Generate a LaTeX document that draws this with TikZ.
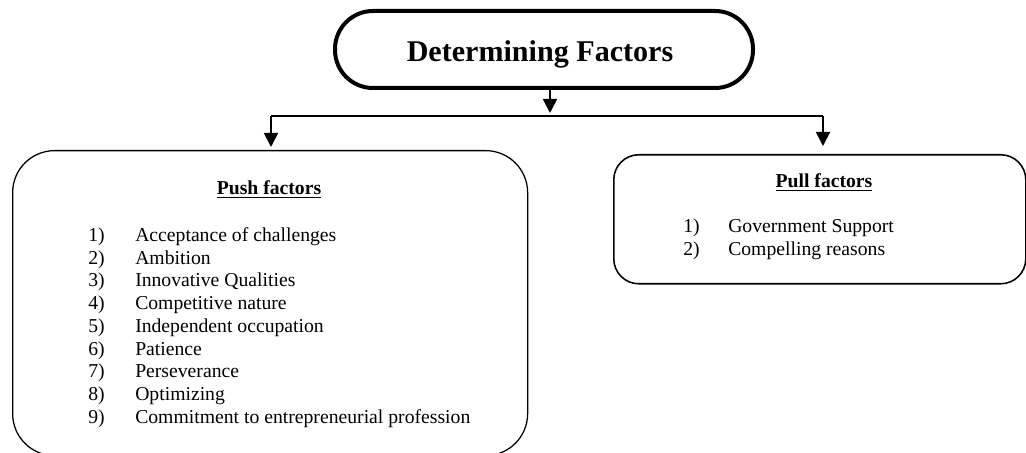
\documentclass[tikz,border=0pt]{standalone}
\usepackage{fontspec}
\setmainfont{Liberation Serif}
\usetikzlibrary{positioning,arrows.meta}

\begin{document}
\begin{tikzpicture}[
    box/.style={draw, rounded corners=#1, line width=0.9pt, inner sep=0pt, anchor=north west},
    head/.style={anchor=base, inner sep=0pt, font=\fontsize{14}{16.15}\selectfont\bfseries},
    items/.style={anchor=base west, inner sep=0pt, font=\fontsize{14}{16.15}\selectfont},
    arrow/.style={-{Triangle[length=0.35cm,width=0.35cm]}, line width=1.3pt},
  ]
    \useasboundingbox (0,0) rectangle (25.65,-11.325);

    % top box
    \node[box=0.95cm, line width=0.1cm, minimum width=10.45cm, minimum height=1.925cm] (det) at (8.325,-0.225) {};
    \node[anchor=base, inner sep=0pt, font=\fontsize{21.4}{25}\selectfont\bfseries] (dettext) at (13.5,-1.55) {Determining Factors};

    % the two groups
    \node[box=1.05cm, minimum width=12.875cm, minimum height=7.625cm] (push) at (0.3,-3.75) {};
    \node[box=0.625cm, line width=1.1pt, minimum width=10.3cm, minimum height=3.225cm] (pull) at (15.325,-3.85) {};

    \node[head] (pushhead) at (6.725,-4.875) {\underline{Push factors}};
    \node[items] (pushlist) at (2.2,-6.0375) {\begin{tabular}[t]{@{}p{1.175cm}@{}l@{}}
      1) & Acceptance of challenges\\
      2) & Ambition\\
      3) & Innovative Qualities\\
      4) & Competitive nature\\
      5) & Independent occupation\\
      6) & Patience\\
      7) & Perseverance\\
      8) & Optimizing\\
      9) & Commitment to entrepreneurial profession
    \end{tabular}};

    \node[head] (pullhead) at (20.6,-4.7) {\underline{Pull factors}};
    \node[items] (pulllist) at (17.075,-5.825) {\begin{tabular}[t]{@{}p{1.125cm}@{}l@{}}
      1) & Government Support\\
      2) & Compelling reasons
    \end{tabular}};

    % connectors
    \coordinate (bus) at (13.75,-2.9);
    \coordinate (busl) at (6.775,-2.9);
    \coordinate (busr) at (20.575,-2.9);
    \draw[arrow, shorten >=0.075cm] (bus |- det.south) -- (bus);
    \draw[line width=1.1pt] (busl) -- (busr);
    \draw[arrow, shorten >=0.075cm] (busl) -- (busl |- push.north);
    \draw[arrow, shorten >=0.2cm] (busr) -- (busr |- pull.north);
  \end{tikzpicture}
\end{document}
